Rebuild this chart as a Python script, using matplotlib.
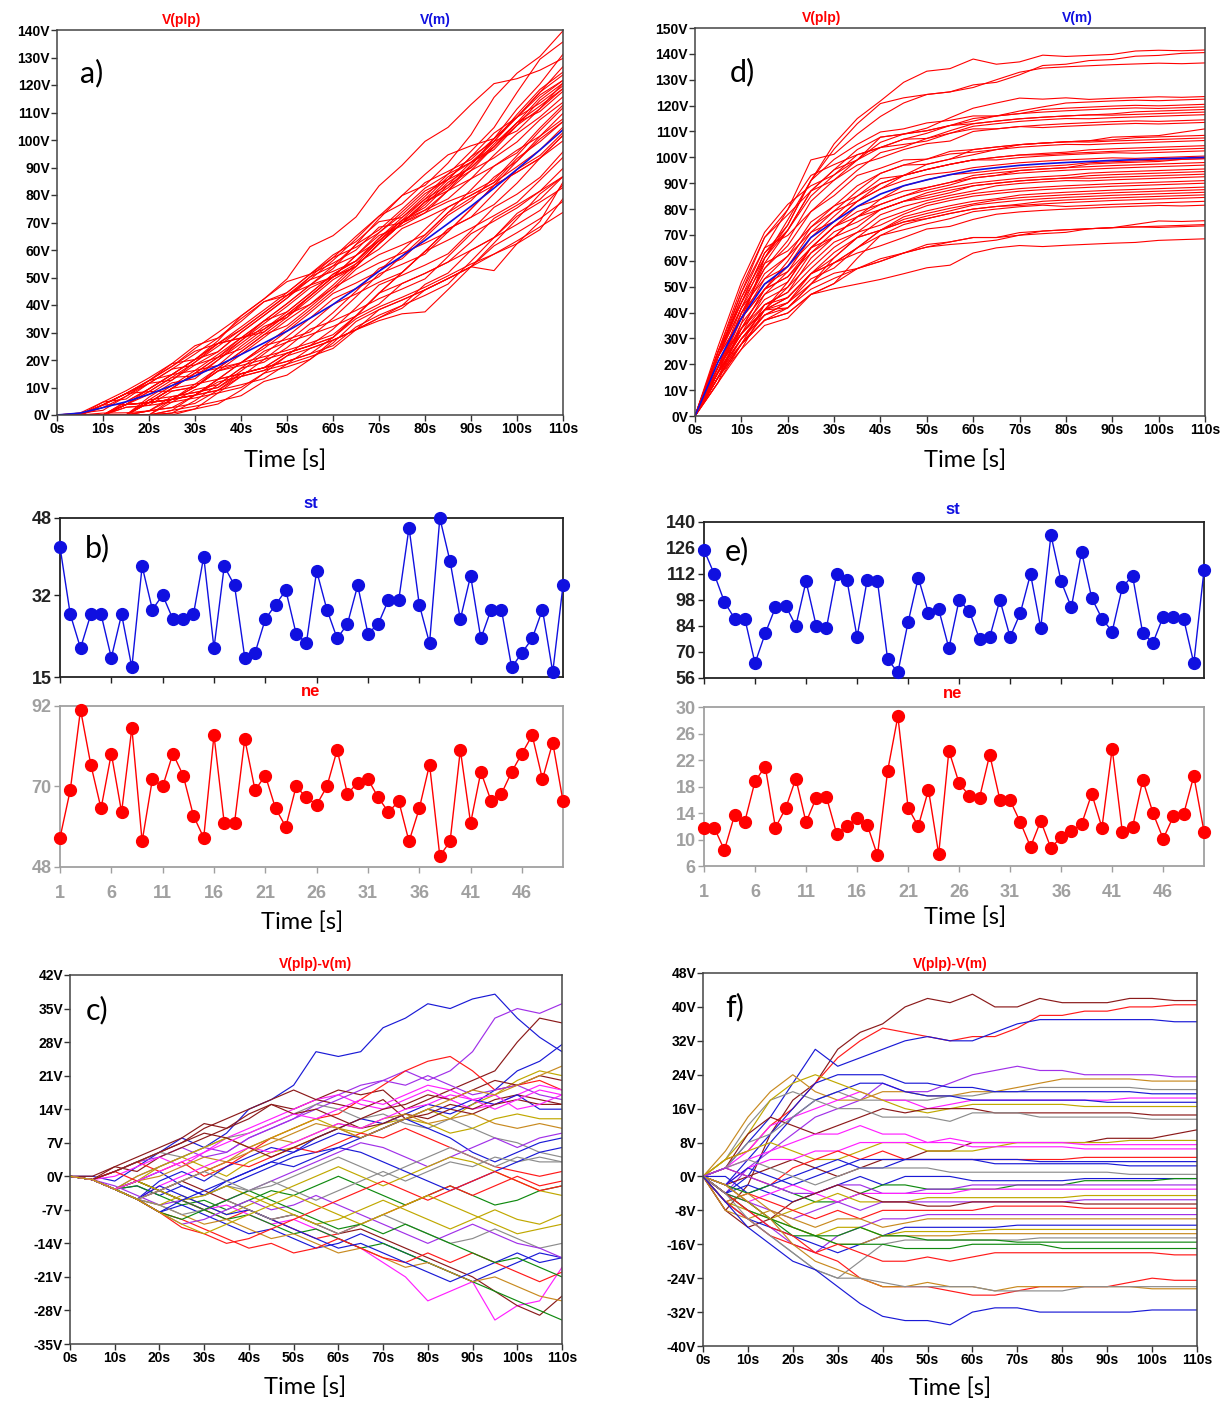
import matplotlib

matplotlib.use("Agg")
import matplotlib.pyplot as plt
import numpy as np

W, H = 1222, 1403

# sample times (s) of the hand-read waveform points
T = [0, 5, 10, 15, 20, 25, 30, 35, 40, 45, 50, 55, 60, 65, 70, 75, 80, 85, 90, 95, 100, 105, 110]

# V(m) mean curves
MEAN_A = [0, 0.7, 2.7, 4.8, 7.5, 10.7, 14.2, 18.0, 22.0, 26.2, 30.5, 35.2, 40.2,
          46.0, 52.3, 57.8, 63.5, 69.6, 75.9, 82.5, 89.3, 96.4, 103.7]
MEAN_D = [0, 21, 37.8, 51, 57.8, 69, 75.2, 81, 85.8, 89, 91.3, 93.3, 95,
          96, 96.9, 97.5, 98, 98.4, 98.8, 99.1, 99.4, 99.7, 100]

# V(plp)-V(m) deviations, panel c (ramp input)
DEV_C = [
    [0, 0, -1, 2, 5, 8, 6, 9, 14, 16, 19, 26, 25, 26, 31, 33, 36, 35, 37, 38, 33, 29, 26],
    [0, -0.7, 1, 3, 4, 6, 4, 5, 8, 10, 12, 15, 17, 19, 20, 22, 20, 22, 26, 33, 35, 34, 36],
    [0, -0.7, 2, 1, 4, 6, 8, 10, 12, 15, 14, 16, 18, 17, 18, 14, 16, 18, 20, 22, 28, 33, 32],
    [0, -0.7, 1, 3, 1, 3, 0, 2, 5, 8, 10, 12, 13, 16, 19, 22, 24, 25, 22, 18, 19, 20, 18],
    [0, -0.7, -2.7, -1, 1, -2, -4, -2, 0, 2, 4, 5, 6, 8, 10, 12, 14, 13, 15, 18, 22, 24, 27.5],
    [0, -0.7, -2.7, -1, 2, 4, 2, 0, 3, 5, 6, 8, 10, 9, 11, 12, 14, 12, 15, 17, 20, 22, 21],
    [0, -0.7, 0, 2, 4, 2, 5, 8, 10, 12, 14, 16, 17, 15, 14, 16, 18, 16, 14, 15, 17, 19, 18],
    [0, -0.7, 1, 3, 5, 7, 10, 12, 14, 16, 18, 16, 15, 14, 16, 12, 13, 15, 14, 16, 17, 16, 15],
    [0, -0.7, -2.7, 0, 2, 4, 6, 5, 8, 10, 12, 14, 16, 18, 20, 19, 21, 19, 17, 18, 19, 17, 16],
    [0, -0.7, 1, 3, 5, 4, 6, 8, 9, 11, 13, 15, 14, 12, 13, 11, 10, 12, 10, 8, 7, 5, 4],
    [0, -0.7, -2.7, -4.8, -1, 1, -1, 2, 4, 6, 5, 8, 10, 12, 11, 13, 15, 14, 16, 15, 17, 14, 14],
    [0, -0.7, -2.7, 0, 2, 4, 6, 8, 6, 8, 10, 12, 10, 8, 10, 12, 11, 9, 10, 12, 13, 12, 12],
    [0, 0, 2, 4, 6, 8, 11, 10, 13, 15, 13, 14, 12, 10, 11, 13, 12, 14, 13, 15, 16, 15, 15],
    [0, -0.7, -2.7, -1, 0, 2, 4, 3, 6, 8, 7, 9, 11, 10, 12, 13, 11, 12, 13, 11, 10, 11, 10],
    [0, -0.7, 1, -1, -3, -1, 1, 3, 2, 4, 6, 5, 7, 9, 8, 10, 8, 6, 4, 2, 1, 0, 1],
    [0, -0.7, -2.7, -2, -4, -2, -4, -1, 1, 3, 5, 7, 9, 8, 10, 12, 10, 8, 5, 3, 5, 7, 8],
    [0, -0.7, -2.7, -4.8, -2, 0, 2, 4, 6, 5, 7, 9, 11, 10, 12, 14, 15, 17, 16, 17, 14, 15, 17],
    [0, -0.7, -2.7, -2, -4, -6, -5, -7, -5, -3, -4, -2, 0, -2, -4, -6, -4, -2, -4, -6, -5, -3, -2],
    [0, -0.7, -2, -4, -6, -5, -7, -5, -3, -1, 1, 3, 5, 7, 6, 4, 2, 4, 6, 8, 6, 8, 9],
    [0, -0.7, -2.7, -1, -3, -5, -4, -2, -3, -1, -3, -5, -3, -1, 1, -1, 1, 3, 2, 4, 3, 4, 3],
    [0, -0.7, -2.7, -4.8, -6, -4, -6, -8, -6, -4, -2, 0, 2, 0, -2, 0, 2, 4, 3, 1, -1, -3, -4],
    [0, -0.7, -2.7, -1, -3, -5, -7, -9, -7, -9, -11, -13, -12, -10, -8, -6, -4, -2, -4, -2, 0, -2, -1],
    [0, -0.7, -2.7, -4.8, -7.5, -6, -8, -10, -12, -11, -13, -15, -14, -12, -14, -16, -18, -20, -22, -20, -18, -16, -17],
    [0, -0.7, -2.7, -4.8, -3, -5, -7, -6, -8, -10, -9, -11, -13, -15, -18, -21, -26, -24, -22, -30, -27, -26, -19],
    [0, -0.7, -2.7, -4.8, -3, -1, -3, -5, -7, -9, -8, -10, -12, -11, -13, -15, -17, -19, -21, -24, -27, -29, -25],
    [0, -0.7, -2.7, -1, -3, -5, -7, -9, -8, -10, -12, -11, -13, -15, -14, -16, -18, -20, -22, -24, -26, -28, -30],
    [0, -0.7, -2.7, -4.8, -6, -8, -10, -9, -11, -13, -12, -14, -16, -15, -17, -19, -18, -20, -22, -21, -23, -25, -26],
    [0, -0.7, -2.7, -4.8, -7.5, -9, -11, -13, -15, -14, -16, -15, -13, -15, -17, -18, -16, -18, -16, -18, -20, -22, -20],
    [0, -0.7, -2.7, -4.8, -2, -4, -6, -8, -7, -9, -11, -13, -15, -14, -16, -18, -20, -22, -20, -18, -16, -18, -17],
    [0, -0.7, -2.7, -4.8, -6, -8, -7, -5, -7, -9, -8, -10, -12, -10, -8, -10, -12, -14, -13, -11, -13, -15, -14],
    [0, -0.7, -2.7, -4.8, -7.5, -10, -9, -7, -5, -7, -6, -4, -6, -8, -10, -12, -14, -12, -10, -12, -14, -15, -17],
    [0, -0.7, -2.7, -1, -3, -5, -4, -2, -4, -6, -8, -10, -9, -7, -5, -7, -9, -11, -9, -7, -9, -10, -8],
    [0, -0.7, 1, 3, 5, 7, 9, 8, 6, 4, 6, 8, 10, 12, 14, 15, 17, 16, 18, 20, 19, 21, 20],
    [0, -0.7, -2.7, -4.8, -3, -1, 1, 3, 5, 7, 9, 11, 10, 8, 10, 12, 14, 16, 18, 17, 19, 21, 23],
    [0, -0.7, -2.7, -4.8, -7.5, -9, -7, -5, -3, -5, -7, -9, -11, -10, -12, -10, -12, -14, -16, -18, -17, -19, -21],
    [0, -0.7, -2.7, -4.8, -7.5, -5, -3, -1, 1, 3, 2, 4, 6, 5, 3, 1, -1, -3, -1, 1, 3, 5, 6],
    [0, -0.7, -2.7, -4.8, -7.5, -10.7, -12, -14, -13, -11, -9, -7, -5, -3, -1, -3, -5, -3, -1, 1, -1, -3, -2],
    [0, -0.7, -2.7, -4.8, -3, -1, 1, -1, -3, -2, 0, 2, 4, 2, 0, 2, 4, 6, 4, 2, 4, 3, 3],
    [0, -0.7, -2.7, -1, 1, 3, 5, 7, 9, 11, 13, 12, 14, 16, 15, 17, 19, 18, 16, 14, 16, 18, 17],
    [0, -0.7, -2.7, -4.8, -7.5, -10, -12, -10, -8, -6, -4, -6, -8, -10, -8, -6, -4, -6, -8, -10, -12, -11, -10],
]
COLORS_C = "bpnrbomnpkbonyrbmgpkorbmngyrbkponygbrkmo"

# V(plp)-V(m) deviations, panel f (step input)
DEV_F = [
    [0, -8, -2, 10, 18, 22, 30, 34, 36, 40, 42, 41, 43, 40, 40, 42, 41, 41, 41, 42, 42, 41.5, 41.5],
    [0, 4, 6, 12, 16, 22, 28, 32, 35, 34, 33, 32, 33, 33, 35, 38, 38, 39, 39, 40, 40, 40.5, 40.5],
    [0, 2, 8, 14, 22, 30, 26, 28, 30, 32, 33, 32, 32, 34, 36, 37, 37, 37, 37, 37, 37, 36.5, 36.5],
    [0, -4, 2, 6, 10, 14, 16, 18, 22, 20, 20, 22, 24, 25, 26, 25, 25, 24, 24, 24, 24, 23.5, 23.5],
    [0, 6, 14, 20, 24, 20, 18, 18, 20, 20, 19, 19, 20, 20, 21, 22, 23, 23, 23, 23, 22.5, 22.5, 22.5],
    [0, 4, 12, 18, 20, 18, 20, 18, 18, 18, 18, 19, 19, 20, 20, 21, 21, 21, 21, 21, 20.5, 20.5, 20.5],
    [0, -2, 4, 10, 16, 22, 24, 24, 24, 22, 22, 21, 21, 20, 20, 20, 20, 20, 20, 20, 19.5, 19.5, 19.5],
    [0, 2, 6, 12, 14, 16, 18, 20, 18, 18, 16, 17, 18, 18, 18, 18, 18, 18, 18, 18.5, 18.5, 18.5, 18.5],
    [0, -4, 0, 8, 14, 18, 20, 22, 22, 20, 19, 19, 18, 18, 18, 18, 18, 18, 17.5, 17.5, 17.5, 17.5, 17.5],
    [0, 4, 10, 18, 22, 24, 22, 20, 18, 16, 15, 16, 17, 17, 17, 17, 17, 16.5, 16.5, 16.5, 16.5, 16.5, 16.5],
    [0, 2, 10, 14, 12, 10, 12, 14, 16, 15, 16, 16, 16, 15, 15, 15, 15, 15, 15, 15, 14.5, 14.5, 14.5],
    [0, 2, 8, 10, 14, 18, 16, 16, 14, 14, 14, 13, 15, 15, 15, 14, 14, 14, 14, 14, 13.5, 13.5, 13.5],
    [0, -2, 0, 2, 4, 2, 0, 2, 4, 4, 6, 6, 8, 8, 8, 8, 8, 8, 9, 9, 9, 10, 11],
    [0, 4, 6, 8, 6, 4, 4, 6, 8, 8, 6, 6, 6, 7, 8, 8, 8, 8, 8, 8.5, 8.5, 8.5, 8.5],
    [0, 2, 4, 6, 8, 10, 10, 12, 10, 10, 8, 9, 8, 8, 8, 8, 8, 7.5, 7.5, 7.5, 7.5, 7.5, 7.5],
    [0, -2, 2, 4, 4, 6, 6, 8, 8, 8, 8, 8, 7, 7, 7, 7, 7, 6.5, 6.5, 6.5, 6.5, 6.5, 6.5],
    [0, 2, 0, -2, 2, 4, 6, 4, 6, 4, 4, 4, 4, 4, 4, 4, 4, 4.5, 4.5, 4.5, 4.5, 4.5, 4.5],
    [0, 0, -4, -2, 0, 2, 4, 2, 2, 4, 4, 4, 4, 4, 4, 3.5, 3.5, 3.5, 3.5, 3.5, 3.5, 3.5, 3.5],
    [0, -2, 2, 0, -2, 0, 2, 4, 4, 4, 4, 4, 4, 3, 3, 3, 3, 3, 3, 2.5, 2.5, 2.5, 2.5],
    [0, 2, 4, 2, 0, -2, 0, 2, 2, 2, 2, 1, 1, 1, 1, 1, 1, 1, 1, 0.5, 0.5, 0.5, 0.5],
    [0, -4, -2, -4, -6, -4, -2, 0, -2, 0, 0, 0, -1, -1, -1, -1, -1, -0.5, -0.5, -0.5, -0.5, -0.5, -0.5],
    [0, -2, -4, -2, -4, -6, -6, -4, -2, -2, -3, -3, -3, -3, -2, -2, -2, -1, -1, -1, -1, -0.5, -0.5],
    [0, 2, 0, -2, -4, -4, -2, -2, -4, -4, -3, -3, -2, -2, -2, -2, -2, -2, -2, -2, -2, -2, -2],
    [0, -4, -6, -4, -2, -4, -6, -4, -4, -4, -4, -4, -3, -3, -3, -3, -3, -3, -3, -3, -3, -3, -3],
    [0, -6, -8, -10, -8, -6, -4, -6, -6, -6, -5, -5, -5, -5, -5, -5, -5, -4.5, -4.5, -4.5, -4.5, -4.5, -4.5],
    [0, -2, -6, -8, -10, -8, -6, -8, -6, -6, -6, -6, -6, -6, -6, -6, -6, -5.5, -5.5, -5.5, -5.5, -5.5, -5.5],
    [0, -8, -12, -10, -6, -4, -2, -4, -6, -6, -7, -7, -6, -6, -6, -6, -6, -6.5, -6.5, -6.5, -6.5, -6.5, -6.5],
    [0, -6, -4, -6, -8, -10, -8, -10, -8, -8, -8, -8, -8, -7, -7, -7, -7, -7.5, -7.5, -7.5, -7.5, -7.5, -7.5],
    [0, -4, -8, -12, -16, -18, -14, -12, -10, -10, -9, -9, -9, -9, -9, -9, -9, -9, -9, -9, -9, -9, -9],
    [0, -6, -4, -8, -10, -12, -10, -10, -12, -11, -10, -10, -10, -10, -10, -10, -10, -10, -10, -10, -10, -10, -10],
    [0, -6, -10, -12, -14, -16, -18, -16, -14, -12, -12, -12, -12, -12, -11.5, -11.5, -11.5, -11.5, -11.5, -11.5, -11.5, -11.5, -11.5],
    [0, -2, -6, -10, -12, -14, -12, -12, -14, -13, -13, -13, -13, -12.5, -12.5, -12.5, -12.5, -12.5, -12.5, -12.5, -12.5, -12.5, -12.5],
    [0, -8, -10, -8, -12, -14, -16, -16, -14, -14, -14, -14, -13.5, -13.5, -13.5, -13.5, -13.5, -13.5, -13.5, -13.5, -13.5, -13.5, -13.5],
    [0, -6, -10, -14, -18, -22, -24, -20, -16, -15, -15, -15, -15, -15, -15, -14.5, -14.5, -14.5, -14.5, -14.5, -14.5, -14.5, -14.5],
    [0, -4, -6, -10, -12, -14, -14, -12, -14, -14, -15, -15, -15, -15, -15.5, -15.5, -15.5, -15.5, -15.5, -15.5, -15.5, -15.5, -15.5],
    [0, -4, -8, -10, -14, -14, -16, -16, -16, -17, -17, -17, -16, -16, -16, -16, -17, -17, -17, -17, -17, -17, -17],
    [0, -6, -10, -14, -16, -18, -16, -18, -20, -20, -19, -20, -19, -18, -18, -18, -18, -18, -18, -18, -18, -18.5, -18.5],
    [0, -4, -8, -12, -14, -18, -20, -24, -26, -26, -26, -27, -28, -28, -27, -26, -26, -26, -26, -25, -24, -24.5, -24.5],
    [0, -2, -6, -10, -16, -20, -22, -24, -26, -26, -25, -26, -26, -27, -26, -26, -26, -26, -26, -26, -26.5, -26.5, -26.5],
    [0, -4, -10, -14, -18, -22, -24, -24, -25, -26, -26, -26, -26, -27, -27, -27, -27, -26, -26, -26, -26, -26, -26],
    [0, -6, -12, -16, -20, -22, -26, -30, -33, -34, -34, -35, -32, -31, -31, -32, -32, -32, -32, -32, -31.5, -31.5, -31.5],
]
COLORS_F = "nrbpykbmbonknommrbbkbgpmopnrpyboykggrrykb"

# st / ne series, 50 samples each
IDX = list(range(1, 51))
ST_B = [42, 28, 21, 28, 28, 19, 28, 17, 38, 29, 32, 27, 27, 28, 40, 21, 38, 34, 19, 20,
        27, 30, 33, 24, 22, 37, 29, 23, 26, 34, 24, 26, 31, 31, 46, 30, 22, 48, 39, 27,
        36, 23, 29, 29, 17, 20, 23, 29, 16, 34]
NE_B = [56, 69, 91, 76, 64, 79, 63, 86, 55, 72, 70, 79, 73, 62, 56, 84, 60, 60, 83, 69,
        73, 64, 59, 70, 67, 65, 70, 80, 68, 71, 72, 67, 63, 66, 55, 64, 76, 51, 55, 80,
        60, 74, 66, 68, 74, 79, 84, 72, 82, 66]
ST_E = [125, 112, 97, 88, 88, 64, 80, 94, 95, 84, 108, 84, 83, 112, 109, 78, 109, 108, 66, 59,
        86, 110, 91, 93, 72, 98, 92, 77, 78, 98, 78, 91, 112, 83, 133, 108, 94, 124, 99, 88,
        81, 105, 111, 80, 75, 89, 89, 88, 64, 114]
NE_E = [11.8, 11.8, 8.4, 13.7, 12.7, 18.8, 21.0, 11.8, 14.7, 19.2, 12.6, 16.3, 16.4, 10.9, 12.0,
        13.2, 12.2, 7.6, 20.4, 28.6, 14.8, 12.0, 17.5, 7.8, 23.4, 18.5, 16.6, 16.3, 22.8, 16.0,
        15.9, 12.6, 8.9, 12.8, 8.7, 10.4, 11.3, 12.3, 16.9, 11.8, 23.7, 11.1, 11.9, 19.0, 14.0,
        10.1, 13.5, 13.8, 19.6, 11.2]

PALETTE = {"b": "#1a1ad6", "r": "#ff1a1a", "g": "#108a10", "m": "#ff20ff", "k": "#8c8c8c",
           "n": "#8b1a1a", "o": "#c0a800", "p": "#a030e8", "y": "#c88a20"}
C_RED = "#ff0000"
C_BLUE = "#1010e0"
C_GREY = "#a0a0a0"
TICK_FONT = "Liberation Sans"
LABEL_FONT = "Lato"

fig = plt.figure(figsize=(W / 100, H / 100), dpi=100)


def add_ax(l, t, r, b):
    return fig.add_axes([l / W, 1 - b / H, (r - l) / W, (b - t) / H])


def ftext(x, y, s, **kw):
    fig.text(x / W, 1 - y / H, s, ha="center", va="center", **kw)


def style_wave(ax, yticks):
    ax.set_xlim(0, 110)
    ax.set_ylim(yticks[0], yticks[-1])
    xt = list(range(0, 111, 10))
    ax.set_xticks(xt)
    ax.set_xticklabels([f"{v}s" for v in xt], fontsize=10, fontweight="bold", family=TICK_FONT)
    ax.set_yticks(yticks)
    ax.set_yticklabels([f"{v}V" for v in yticks], fontsize=10, fontweight="bold", family=TICK_FONT)
    ax.tick_params(direction="out", length=4, width=1, pad=1, colors="#333333", labelcolor="black")
    for sp in ax.spines.values():
        sp.set_color("#444444")
        sp.set_linewidth(1.1)


def wave_panel(ax, mean, devs, colors, yticks, absolute):
    for dev, c in zip(devs, colors):
        if absolute:
            y = np.array(mean) + np.array(dev)
            ax.plot(T, y, color=C_RED, lw=0.8)
        else:
            ax.plot(T, dev, color=PALETTE[c], lw=0.85)
    if absolute:
        ax.plot(T, mean, color=C_BLUE, lw=1.2)
    style_wave(ax, yticks)


def series_panel(ax, vals, color, yticks, grey, show_x):
    ax.plot(IDX, vals, "o-", color=color, lw=1.0, ms=8.5, clip_on=False, zorder=3)
    ax.set_xlim(1, 50)
    ax.set_ylim(yticks[0], yticks[-1])
    ax.set_yticks(yticks)
    lc = "#999999" if grey else "black"
    ax.set_yticklabels([str(v) for v in yticks], fontsize=13, fontweight="bold",
                       family=TICK_FONT, color=lc)
    ax.set_xticks(list(range(1, 50, 5)))
    if show_x:
        ax.set_xticklabels([str(v) for v in range(1, 50, 5)], fontsize=13, fontweight="bold",
                           family=TICK_FONT, color=lc)
    else:
        ax.set_xticklabels([])
        ax.tick_params(axis="x", length=0)
    ax.tick_params(direction="out", length=4, width=1, pad=2,
                   colors=C_GREY if grey else "#222222")
    ax.tick_params(axis="x", pad=9)
    for sp in ax.spines.values():
        sp.set_color(C_GREY if grey else "#222222")
        sp.set_linewidth(1.3)


# ---- panel a / d
ax_a = add_ax(57, 30, 563, 415)
wave_panel(ax_a, MEAN_A, DEV_C, COLORS_C, list(range(0, 141, 10)), True)
ax_d = add_ax(695, 28, 1205, 416)
wave_panel(ax_d, MEAN_D, DEV_F, COLORS_F, list(range(0, 151, 10)), True)

# ---- panel b / e
ax_b1 = add_ax(60, 518, 563, 677)
series_panel(ax_b1, ST_B, C_BLUE, [15, 32, 48], False, False)
ax_b2 = add_ax(60, 706, 563, 867)
series_panel(ax_b2, NE_B, C_RED, [48, 70, 92], True, True)
ax_e1 = add_ax(704, 522, 1204, 678)
series_panel(ax_e1, ST_E, C_BLUE, list(range(56, 141, 14)), False, False)
ax_e2 = add_ax(704, 707, 1204, 866)
series_panel(ax_e2, NE_E, C_RED, list(range(6, 31, 4)), True, True)

# ---- panel c / f
ax_c = add_ax(70, 975, 562, 1344)
wave_panel(ax_c, MEAN_A, DEV_C, COLORS_C, list(range(-35, 43, 7)), False)
ax_f = add_ax(703, 973, 1197, 1346)
wave_panel(ax_f, MEAN_D, DEV_F, COLORS_F, list(range(-40, 49, 8)), False)

# ---- headers
hk = dict(fontsize=10, fontweight="bold", family=TICK_FONT)
ftext(182, 20, "V(plp)", color=C_RED, **hk)
ftext(435, 20, "V(m)", color=C_BLUE, **hk)
ftext(822, 18, "V(plp)", color=C_RED, **hk)
ftext(1077, 18, "V(m)", color=C_BLUE, **hk)
ftext(316, 964, "V(plp)-v(m)", color=C_RED, **hk)
ftext(950, 964, "V(plp)-V(m)", color=C_RED, **hk)
sk = dict(fontsize=12, fontweight="bold", family=TICK_FONT)
ftext(311, 504, "st", color=C_BLUE, **sk)
ftext(311, 692, "ne", color=C_RED, **sk)
ftext(953, 509, "st", color=C_BLUE, **sk)
ftext(953, 694, "ne", color=C_RED, **sk)

# ---- axis labels and panel letters
lk = dict(fontsize=17, family=LABEL_FONT)
for x, y in [(285, 460), (965, 460), (302, 922), (965, 917), (305, 1387), (950, 1388)]:
    ftext(x, y, "Time [s]", **lk)
pk = dict(fontsize=22, family=LABEL_FONT)
for x, y, s in [(92, 73, "a)"), (742, 72, "d)"), (97, 548, "b)"),
                (737, 551, "e)"), (97, 1010, "c)"), (735, 1007, "f)")]:
    ftext(x, y, s, **pk)

fig.savefig("out.png", dpi=100)
